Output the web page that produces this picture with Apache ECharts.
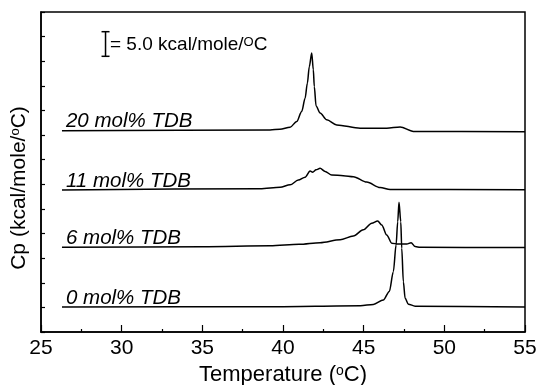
<!DOCTYPE html>
<html>
<head>
    <meta charset="utf-8">
    <script src="https://cdn.jsdelivr.net/npm/echarts@6/dist/echarts.min.js"></script>
    <style>
        html, body { margin: 0; padding: 0; background: #fff; }
        #main { width: 539px; height: 385px; }
    </style>
</head>
<body>
    <div id="main"></div>
    <script type="text/javascript">
        var myChart = echarts.init(document.getElementById('main'));

        // temperatures (deg C) and Cp (in units of 5 kcal/mole/deg C, offset per trace)
        var temp0 = [26.3, 39.2, 44.8, 45.6, 46.22, 46.59, 46.84, 47.01, 47.11, 47.19, 47.3, 47.36, 47.46, 47.57, 47.77, 48.19, 55];
        var cp0 = [1.02, 1.03, 1.07, 1.12, 1.30, 1.65, 2.45, 3.54, 4.48, 5.27, 4.48, 3.40, 2.04, 1.37, 1.13, 1.05, 1.02];

        var temp6 = [26.3, 35, 39.2, 41, 42.3, 43.54, 44.36, 44.98, 45.5, 45.87, 46.12, 46.43, 46.74, 47.15, 47.67, 47.94, 48.19, 48.5, 55];
        var cp6 = [3.44, 3.46, 3.50, 3.56, 3.63, 3.75, 3.90, 4.15, 4.42, 4.51, 4.35, 3.94, 3.61, 3.57, 3.57, 3.63, 3.47, 3.44, 3.43];

        var temp11 = [26.3, 38.58, 39.82, 40.44, 40.95, 41.37, 41.68, 41.84, 42.05, 42.3, 42.61, 43.02, 43.74, 44.36, 45.19, 46.02, 46.64, 55];
        var cp11 = [5.77, 5.82, 5.88, 5.98, 6.17, 6.29, 6.54, 6.49, 6.59, 6.65, 6.52, 6.38, 6.35, 6.31, 6.09, 5.87, 5.79, 5.78];

        var temp20 = [26.3, 39.2, 39.81, 40.44, 40.85, 41.16, 41.37, 41.51, 41.63, 41.78, 41.88, 41.94, 42.05, 42.3, 42.71, 43.33, 44.78, 46.43, 47.26, 48.08, 55];
        var cp20 = [8.18, 8.21, 8.24, 8.32, 8.55, 8.96, 9.50, 10.11, 10.78, 11.33, 10.65, 9.97, 9.18, 8.90, 8.62, 8.41, 8.28, 8.28, 8.33, 8.15, 8.14];

        var traceNames = ['0 mol% TDB', '6 mol% TDB', '11 mol% TDB', '20 mol% TDB'];
        var traceTemps = [temp0, temp6, temp11, temp20];
        var traceCps = [cp0, cp6, cp11, cp20];

        // scale bar: 1 unit = 5.0 kcal/mole/deg C
        var scaleBarX = 29;
        var scaleBarY = [11.2, 12.2];

        var series = [];
        for (var i = 0; i < traceNames.length; i++) {
            series.push({
                name: traceNames[i],
                type: 'line',
                symbol: 'circle',
                symbolSize: 0,
                showSymbol: true,
                smooth: 0.3,
                smoothMonotone: 'x',
                itemStyle: { color: '#000' },
                lineStyle: { color: '#000', width: 1.5 },
                label: {
                    show: true,
                    position: 'top',
                    align: 'left',
                    verticalAlign: 'bottom',
                    distance: 0,
                    offset: [4, 1],
                    fontFamily: 'Liberation Sans',
                    fontStyle: 'italic',
                    fontSize: 20.5,
                    color: '#000',
                    formatter: function(params) {
                        return params.dataIndex == 0 ? params.seriesName : '';
                    }
                },
                data: traceTemps[i].map(function(t, k) { return [t, traceCps[i][k]]; })
            });
        }

        series.push({
            type: 'line',
            symbol: 'rect',
            symbolSize: [8, 1.5],
            showSymbol: true,
            itemStyle: { color: '#000' },
            lineStyle: { color: '#000', width: 1.5 },
            data: scaleBarY.map(function(y) { return [scaleBarX, y]; })
        });

        myChart.setOption({
            animation: false,
            textStyle: { fontFamily: 'Liberation Sans', color: '#000' },
            grid: {
                left: 41, right: 14, top: 12, bottom: 53,
                outerBoundsMode: 'none',
                containLabel: false,
                show: true, borderColor: '#000', borderWidth: 1.5
            },
            xAxis: {
                type: 'value',
                min: 25, max: 55, interval: 5,
                name: 'Temperature ({sup|o}C)',
                nameLocation: 'middle',
                nameGap: 32,
                nameTextStyle: {
                    fontSize: 22, color: '#000',
                    rich: { sup: { fontSize: 14, verticalAlign: 'top', color: '#000' } }
                },
                axisLine: { lineStyle: { color: '#000', width: 1.5 } },
                axisTick: { inside: true, length: 7, lineStyle: { color: '#000', width: 1.2 } },
                minorTick: { show: true, splitNumber: 2, length: 3, lineStyle: { color: '#000', width: 1.2 } },
                axisLabel: { fontSize: 21, color: '#000', margin: 6 },
                splitLine: { show: false }
            },
            yAxis: {
                type: 'value',
                min: 0, max: 13, interval: 1,
                axisLine: { show: true, lineStyle: { color: '#000', width: 1.5 } },
                axisTick: { show: true, inside: true, length: 4, lineStyle: { color: '#000', width: 1.2 } },
                axisLabel: { show: false },
                splitLine: { show: false }
            },
            graphic: [
                {
                    type: 'text',
                    x: 19,
                    y: 188,
                    rotation: Math.PI / 2,
                    style: {
                        text: 'Cp (kcal/mole/{sup|o}C)',
                        font: '21px "Liberation Sans"',
                        fill: '#000',
                        align: 'center',
                        verticalAlign: 'middle',
                        rich: { sup: { fontSize: 13, verticalAlign: 'top', fill: '#000' } }
                    }
                },
                {
                    type: 'text',
                    x: 110,
                    y: 45,
                    style: {
                        text: '= 5.0 kcal/mole/{sup|O}C',
                        font: '19px "Liberation Sans"',
                        fill: '#000',
                        align: 'left',
                        verticalAlign: 'middle',
                        rich: { sup: { fontSize: 13, verticalAlign: 'top', fill: '#000' } }
                    }
                }
            ],
            series: series
        });
    </script>
</body>
</html>
